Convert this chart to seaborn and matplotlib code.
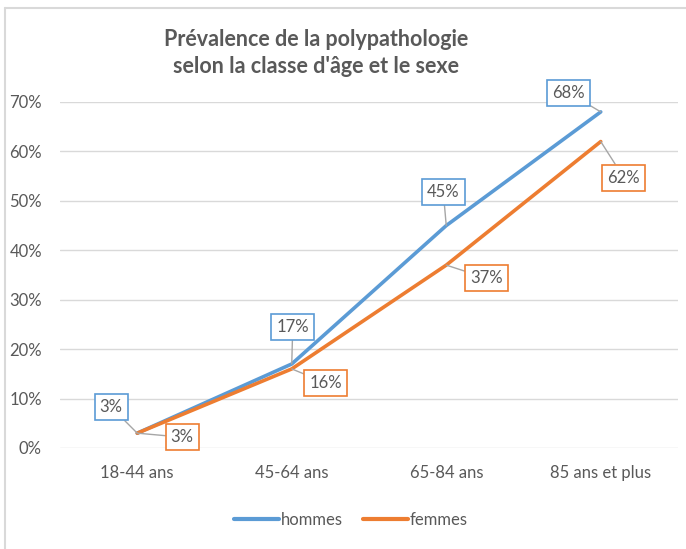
import numpy as np
import pandas as pd
import matplotlib
matplotlib.use('Agg')
import matplotlib.pyplot as plt
import seaborn as sns
from matplotlib.lines import Line2D

# data
categories = ['18-44 ans', '45-64 ans', '65-84 ans', '85 ans et plus']
hommes = [0.03, 0.17, 0.45, 0.68]
femmes = [0.03, 0.16, 0.37, 0.62]
series = ['hommes', 'femmes']
colors = {'hommes': '#5B9BD5', 'femmes': '#ED7D31'}

df = pd.DataFrame({
    'classe': categories * 2,
    'x': list(range(len(categories))) * 2,
    'valeur': hommes + femmes,
    'sexe': ['hommes'] * 4 + ['femmes'] * 4,
})

sns.set_style('white')
plt.rcParams['font.family'] = ['Lato', 'DejaVu Sans']
grey = '#595959'

fig = plt.figure(figsize=(6.86, 5.49), dpi=100)
ax = fig.add_axes([60 / 686, 1 - 448 / 549, 618 / 686, 346 / 549])

sns.lineplot(data=df, x='x', y='valeur', hue='sexe', palette=colors,
             linewidth=2.6, ax=ax, legend=False, clip_on=False)

ax.set_xlim(-0.5, 3.5)
ax.set_ylim(0, 0.7)
ax.set_yticks(np.arange(0, 0.71, 0.1))
ax.set_yticklabels([f'{int(round(v * 100))}%' for v in np.arange(0, 0.71, 0.1)])
ax.set_xticks(range(len(categories)))
ax.set_xticklabels(categories)
ax.tick_params(axis='both', colors=grey, labelsize=12, length=0)
ax.tick_params(axis='y', pad=13)
ax.tick_params(axis='x', pad=12)
ax.grid(axis='y', color='#D9D9D9', linewidth=1)
ax.set_axisbelow(True)
for s in ax.spines.values():
    s.set_visible(False)
ax.set_xlabel('')
ax.set_ylabel('')

# data labels (offsets in pixels)
offsets = {
    'hommes': [(-26, 26), (1, 37), (-3, 34), (-32, 19)],
    'femmes': [(45, -4), (34, -14), (40, -13), (23, -36)],
}
vals = {'hommes': hommes, 'femmes': femmes}
for name in series:
    for i, v in enumerate(vals[name]):
        ax.annotate(f'{int(round(v * 100))}%', xy=(i, v), xytext=offsets[name][i],
                    textcoords='offset pixels', ha='center', va='center',
                    fontsize=12, color=grey, annotation_clip=False,
                    bbox=dict(boxstyle='square,pad=0.3', fc='white',
                              ec=colors[name], lw=1.2),
                    arrowprops=dict(arrowstyle='-', color='#A6A6A6', lw=1,
                                    shrinkA=0, shrinkB=0))

fig.text(316 / 686, 1 - 53 / 549, 'Prévalence de la polypathologie\nselon la classe d\'âge et le sexe',
         ha='center', va='center', fontsize=15.5, fontweight='bold', color=grey,
         linespacing=1.35)

handles = [Line2D([], [], color=colors[n], lw=3) for n in series]
fig.legend(handles, series, loc='center', bbox_to_anchor=(351 / 686, 1 - 520 / 549),
           ncol=2, frameon=False, fontsize=12, labelcolor=grey,
           handlelength=2.7, handletextpad=0.1, columnspacing=1.2)

# chart frame
fig.add_artist(Line2D([5 / 686, 5 / 686], [0, 1 - 8 / 549], color='#D9D9D9', lw=1.5,
                      transform=fig.transFigure))
fig.add_artist(Line2D([5 / 686, 1], [1 - 8 / 549, 1 - 8 / 549], color='#D9D9D9', lw=1.5,
                      transform=fig.transFigure))

fig.savefig('out.png', dpi=100)
